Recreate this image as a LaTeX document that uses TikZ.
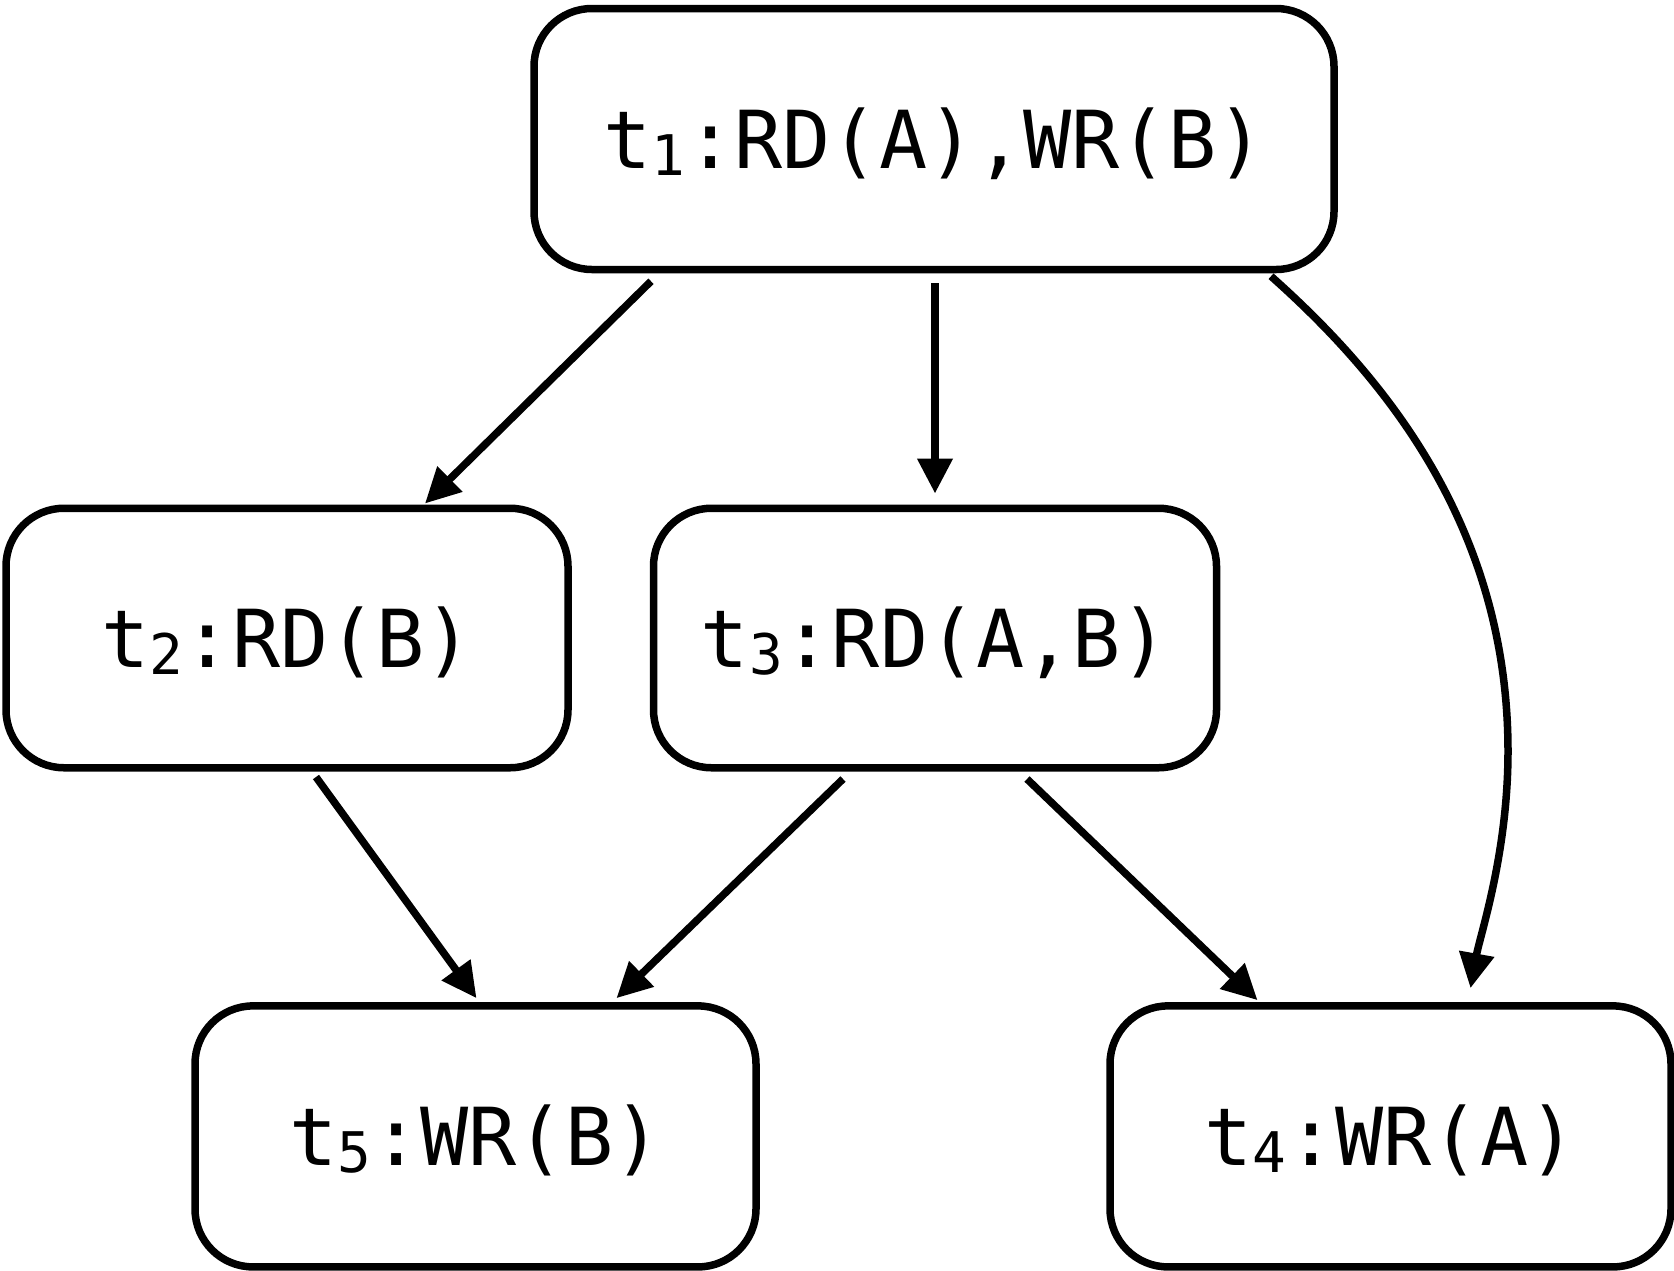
\documentclass[tikz,border=0pt]{standalone}
\usepackage{fontspec}
\newfontfamily\labelfont{DejaVu Sans Mono}
\usetikzlibrary{arrows.meta,calc}
% subscript digit set in a narrow cell right after the letter
\newcommand\tsub[1]{\makebox[0.72\fontcharwd\font`0][l]{\raisebox{-7pt}{\fontsize{56}{56}\selectfont #1}}}
\tikzset{
  x=1pt, y=-1pt,
  opbox/.style={draw, line width=7.5pt, rounded corners=58pt, inner sep=0pt,
    minimum height=261pt, text height=58pt, text depth=0pt,
    font=\labelfont\fontsize{80}{96}\selectfont},
  dep/.style={line width=7.5pt, -{Triangle[length=35pt,width=34pt]}},
}
\begin{document}
\begin{tikzpicture}
\useasboundingbox (0,0) rectangle (1674,1270);
\fill[white] (0,0) rectangle (1674,1270);

% operations
\node[opbox, minimum width=800pt] (t1) at (934,139) {t\tsub{1}:RD(A),WR(B)};
\node[opbox, minimum width=562pt, minimum height=259.5pt] (t2) at (287,638) {t\tsub{2}:RD(B)};
\node[opbox, minimum width=563pt, minimum height=259.5pt] (t3) at (935,638) {t\tsub{3}:RD(A,B)};
\node[opbox, minimum width=561pt] (t5) at (475.5,1136.4) {t\tsub{5}:WR(B)};
\node[opbox, minimum width=561pt] (t4) at (1390.5,1136.4) {t\tsub{4}:WR(A)};

% dependencies
\draw[dep] ($(t1.south)+(-283,8)$) -- ($(t2.north)+(138,-1)$);
\draw[dep] ($(t1.south)+(1,10)$) -- ($(t3.north)+(0,-11)$);
\draw[dep] ($(t1.south)+(337,3)$)
  .. controls ($(t1.south)+(446,100)$) and ($(t1.south)+(574,250)$) .. ($(t1.south)+(574,478)$)
  .. controls ($(t1.south)+(574,580)$) and ($(t1.south)+(546,662)$) .. ($(t4.north)+(80,-14)$);
\draw[dep] ($(t2.south)+(29,5.5)$) -- ($(t5.north)+(1,-4)$);
\draw[dep] ($(t3.south)+(-92,7.5)$) -- ($(t5.north)+(141,-4)$);
\draw[dep] ($(t3.south)+(92,7.5)$) -- ($(t4.north)+(-133,-2)$);
\end{tikzpicture}
\end{document}
